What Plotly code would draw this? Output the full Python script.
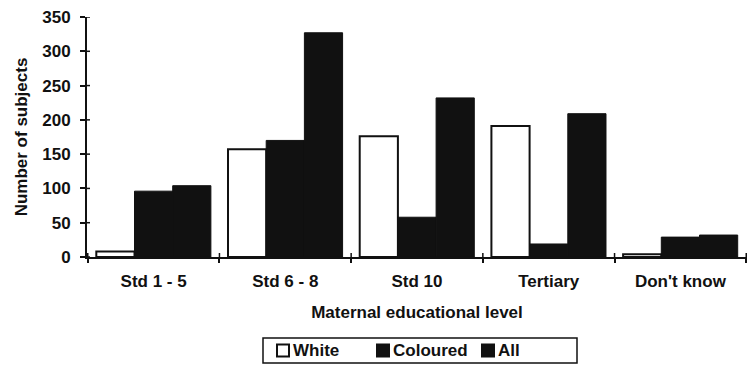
import plotly.graph_objects as go

categories = ["Std 1 - 5", "Std 6 - 8", "Std 10", "Tertiary", "Don't know"]
white = [8, 157, 176, 191, 4]
coloured = [96, 170, 58, 19, 29]
all_subjects = [104, 327, 232, 209, 32]
y_ticks = [0, 50, 100, 150, 200, 250, 300, 350]

FONT = "Liberation Sans, Arial, sans-serif"
INK = "#111111"
W, H = 747, 372
ML, MR, MT, MB = 87, 0, 17, 115
PW, PH = W - ML - MR, H - MT - MB

series = [
    ("White", white, "white", 2),
    ("Coloured", coloured, INK, 1),
    ("All", all_subjects, INK, 1),
]

fig = go.Figure()
for name, vals, fill, lw in series:
    fig.add_trace(go.Bar(name=name, x=categories, y=vals, showlegend=False,
                         marker=dict(color=fill, line=dict(color=INK, width=lw))))


def px_x(p):
    return (p - ML) / PW


def px_y(p):
    return (H - MB - p) / PH


# Boxed legend below the axis title: small square swatch right next to each label
shapes = [dict(type="rect", xref="paper", yref="paper",
               x0=px_x(263), x1=px_x(577), y0=px_y(363), y1=px_y(338),
               line=dict(color=INK, width=1.5), fillcolor="white")]
annotations = []
legend_x = [277, 377, 482]
for (name, _, fill, _), lx in zip(series, legend_x):
    shapes.append(dict(type="rect", xref="paper", yref="paper",
                       x0=px_x(lx), x1=px_x(lx + 12), y0=px_y(356.5), y1=px_y(344.5),
                       line=dict(color=INK, width=2), fillcolor=fill))
    annotations.append(dict(text=name, xref="paper", yref="paper",
                            x=px_x(lx + 14), y=px_y(350.5), xanchor="left", yanchor="middle",
                            showarrow=False, font=dict(size=17, family=FONT, weight="bold", color=INK)))

# Inner half of each crossing tick mark on both axes
for v in y_ticks:
    shapes.append(dict(type="line", xref="paper", yref="y", x0=0, x1=px_x(ML + 3),
                       y0=v, y1=v, line=dict(color=INK, width=1.5)))
for b in range(len(categories) + 1):
    shapes.append(dict(type="line", xref="x", yref="paper", x0=b - 0.5, x1=b - 0.5,
                       y0=0, y1=px_y(H - MB - 4), line=dict(color=INK, width=1.5)))

fig.update_layout(
    width=W, height=H,
    margin=dict(l=ML, r=MR, t=MT, b=MB),
    paper_bgcolor="white", plot_bgcolor="white",
    font=dict(family=FONT, size=17, color=INK, weight="bold"),
    barmode="group", bargap=0.13, bargroupgap=0,
    showlegend=False,
    shapes=shapes, annotations=annotations,
    xaxis=dict(
        type="category", showline=True, linecolor=INK, linewidth=2,
        ticks="outside", ticklen=4, tickwidth=1.5, tickcolor=INK,
        tickson="boundaries", showgrid=False, zeroline=False,
        ticklabelstandoff=8,
        tickfont=dict(size=17, weight="bold"),
        title=dict(text="Maternal educational level", standoff=16,
                   font=dict(size=17, weight="bold")),
    ),
    yaxis=dict(
        range=[0, 350], tickvals=y_ticks, showline=True, linecolor=INK, linewidth=2,
        ticks="outside", ticklen=5, tickwidth=1.5, tickcolor=INK,
        showgrid=False, zeroline=False, ticklabelstandoff=6,
        tickfont=dict(size=17, weight="bold"),
        title=dict(text="Number of subjects", standoff=10,
                   font=dict(size=17, weight="bold")),
    ),
)

fig.write_html("out.html")
